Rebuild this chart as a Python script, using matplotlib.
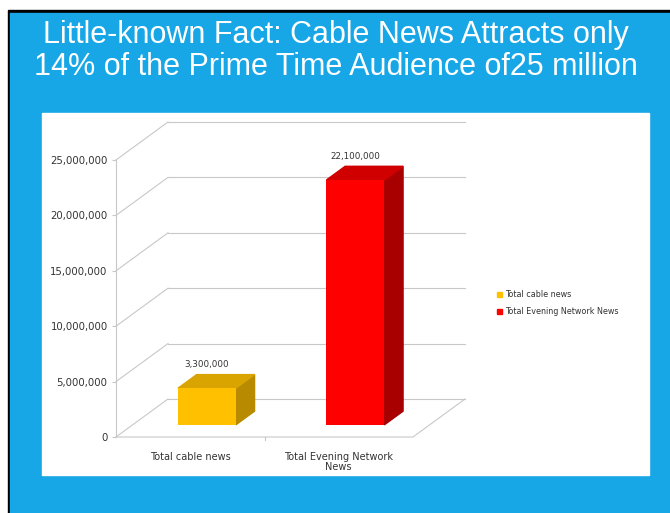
import numpy as np
import matplotlib
matplotlib.use("Agg")
import matplotlib.pyplot as plt
from matplotlib.patches import Rectangle, Polygon
from matplotlib.transforms import ScaledTranslation, IdentityTransform
from matplotlib.ticker import FuncFormatter

# data
categories = ["Total cable news", "Total Evening Network\nNews"]
legend_names = ["Total cable news", "Total Evening Network News"]
values = [3300000, 22100000]
value_labels = ["3,300,000", "22,100,000"]
yticks = [0, 5000000, 10000000, 15000000, 20000000, 25000000]

front_cols = ["#FFC000", "#FF0000"]
top_cols = ["#D9A300", "#D00000"]
side_cols = ["#B88A00", "#A80000"]
blue = "#17A6E6"
grid_c = "#C8C8C8"

W, H = 670, 513
fig = plt.figure(figsize=(W / 100, H / 100), dpi=100)
fig.patch.set_facecolor("white")

# slide background in pixel coords (y down)
bg = fig.add_axes([0, 0, 1, 1])
bg.set_xlim(0, W)
bg.set_ylim(H, 0)
bg.axis("off")
bg.add_patch(Rectangle((8, 10), W, H, color="black", zorder=0))
bg.add_patch(Rectangle((10, 13), W, H, color=blue, zorder=1))
bg.add_patch(Rectangle((42, 113), 607, 362, color="white", zorder=2))

fig.text(336 / W, 1 - 51 / H,
         "Little-known Fact: Cable News Attracts only\n14% of the Prime Time Audience of25 million",
         ha="center", va="center", color="white", fontsize=22,
         family=["Liberation Sans", "DejaVu Sans"], linespacing=1.08)

# front plane of the 3D chart
x0, x1, yb, yt = 116, 413, 437, 160
ax = fig.add_axes([x0 / W, 1 - yb / H, (x1 - x0) / W, (yb - yt) / H])
ax.patch.set_alpha(0)
ax.set_xlim(-0.5, 1.5)
ax.set_ylim(0, 25000000)
for s in ["top", "right", "bottom"]:
    ax.spines[s].set_visible(False)
ax.spines["left"].set_color(grid_c)
ax.set_yticks(yticks)
ax.yaxis.set_major_formatter(FuncFormatter(lambda v, p: f"{int(v):,}"))
ax.tick_params(axis="y", length=3, color=grid_c, labelsize=7.3, labelcolor="#333333", pad=3)
ax.set_xticks([0, 1])
ax.set_xticklabels(categories, fontsize=7, color="#333333", linespacing=1.0)
ax.tick_params(axis="x", length=0, pad=11)
for lab in ax.get_xticklabels():
    lab.set_verticalalignment("top")

fig.canvas.draw()

DX, DY = 52, 38  # full depth of floor, pixels
ident = IdentityTransform()


def px(x, y, d):
    p = ax.transData.transform((x, y))
    return (p[0] + d * DX, p[1] + d * DY)


# back wall gridlines and diagonals
back = ax.transData + ScaledTranslation(DX / 100, DY / 100, fig.dpi_scale_trans)
for v in yticks:
    ax.plot([-0.5, 1.5], [v, v], color=grid_c, lw=0.8, transform=back, clip_on=False, zorder=1)
    a, b = px(-0.5, v, 0), px(-0.5, v, 1)
    ax.add_line(plt.Line2D([a[0], b[0]], [a[1], b[1]], color=grid_c, lw=0.8,
                           transform=ident, clip_on=False, zorder=1))
# floor
c1, c2 = px(-0.5, 0, 0), px(1.5, 0, 0)
c3 = px(1.5, 0, 1)
ax.add_line(plt.Line2D([c1[0], c2[0], c3[0]], [c1[1], c2[1], c3[1]], color=grid_c, lw=0.8,
                       transform=ident, clip_on=False, zorder=1))
# small category divider tick
m = px(0.5, 0, 0)
ax.add_line(plt.Line2D([m[0], m[0]], [m[1], m[1] - 3], color=grid_c, lw=0.8,
                       transform=ident, clip_on=False, zorder=1))

# bars
f0, f1 = 0.32, 0.68
bw = 0.39
xs = np.arange(len(values))
front = ax.transData + ScaledTranslation(f0 * DX / 100, f0 * DY / 100, fig.dpi_scale_trans)
ax.bar(xs, values, width=bw, color=front_cols, transform=front, zorder=4, clip_on=False)
for i, v in enumerate(values):
    l, r = i - bw / 2, i + bw / 2
    top = [px(l, v, f0), px(r, v, f0), px(r, v, f1), px(l, v, f1)]
    side = [px(r, 0, f0), px(r, v, f0), px(r, v, f1), px(r, 0, f1)]
    ax.add_patch(Polygon(side, closed=True, color=side_cols[i], transform=ident,
                         clip_on=False, zorder=3))
    ax.add_patch(Polygon(top, closed=True, color=top_cols[i], transform=ident,
                         clip_on=False, zorder=3))
    lp = px(i, v, f0)
    ax.text(lp[0], lp[1] + 19, value_labels[i], transform=ident, ha="center", va="bottom",
            fontsize=6.3, color="#333333", zorder=5)

# legend
handles = [Rectangle((0, 0), 1, 1, color=c) for c in front_cols]
fig.legend(handles, legend_names, loc="center left", bbox_to_anchor=(490 / W, 1 - 303 / H),
           frameon=False, fontsize=5.8, handlelength=0.6, handleheight=0.6,
           handletextpad=0.4, labelspacing=1.0, labelcolor="#333333")

fig.savefig("out.png", dpi=100)
